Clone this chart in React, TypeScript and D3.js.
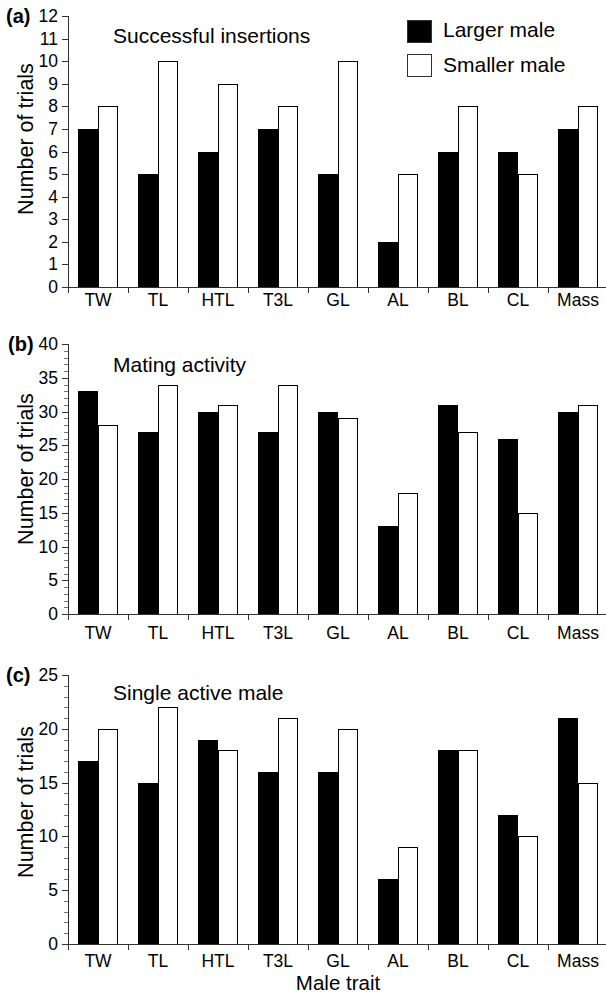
import React from "react";
import * as d3 from "d3";

const categories = ["TW", "TL", "HTL", "T3L", "GL", "AL", "BL", "CL", "Mass"];
const seriesNames = ["Larger male", "Smaller male"];

const insertionsLarger = [7, 5, 6, 7, 5, 2, 6, 6, 7];
const insertionsSmaller = [8, 10, 9, 8, 10, 5, 8, 5, 8];

const matingLarger = [33, 27, 30, 27, 30, 13, 31, 26, 30];
const matingSmaller = [28, 34, 31, 34, 29, 18, 27, 15, 31];

const singleLarger = [17, 15, 19, 16, 16, 6, 18, 12, 21];
const singleSmaller = [20, 22, 18, 21, 20, 9, 18, 10, 15];

const panelLetters = ["(a)", "(b)", "(c)"];
const panelTitles = ["Successful insertions", "Mating activity", "Single active male"];
const yMax = [12, 40, 25];
const yMajorStep = [1, 5, 5];
const yMinorStep = [0, 1, 1];

const FONT = "'Liberation Sans', Arial, Helvetica, sans-serif";
const AXIS = "#333";

type PanelLayout = { y0: number; y1: number; labelBase: number; titleBase: number; axisTitleY: number };
const layouts: PanelLayout[] = [
  { y0: 287, y1: 16, labelBase: 306, titleBase: 43, axisTitleY: 139 },
  { y0: 614, y1: 344, labelBase: 639, titleBase: 372, axisTitleY: 469 },
  { y0: 944, y1: 675, labelBase: 967, titleBase: 700, axisTitleY: 802 },
];

const X0 = 68;
const X1 = 608;

function Panel({ idx, larger, smaller }: { idx: number; larger: number[]; smaller: number[] }) {
  const L = layouts[idx];
  const x = d3.scaleBand<string>().domain(categories).range([X0, X1]).paddingInner(1 / 3).paddingOuter(1 / 6);
  const xs = d3.scaleBand<string>().domain(seriesNames).range([0, x.bandwidth()]);
  const y = d3.scaleLinear().domain([0, yMax[idx]]).range([L.y0, L.y1]);
  const majors = d3.range(0, yMax[idx] + 0.001, yMajorStep[idx]);
  const minors = yMinorStep[idx] ? d3.range(0, yMax[idx] + 0.001, yMinorStep[idx]).filter((v) => v % yMajorStep[idx] !== 0) : [];
  const step = x.step();
  const boundaries = d3.range(0, categories.length + 1).map((i) => X0 + i * step);
  const data = [larger, smaller];
  return (
    <g>
      {categories.map((c, i) =>
        seriesNames.map((s, j) => {
          const v = data[j][i];
          const bx = (x(c) as number) + (xs(s) as number);
          return (
            <rect
              key={c + s}
              x={Math.round(bx) + 0.5}
              y={Math.round(y(v)) + 0.5}
              width={xs.bandwidth() - 1}
              height={Math.round(y(0)) - Math.round(y(v))}
              fill={j === 0 ? "#000" : "#fff"}
              stroke="#000"
              strokeWidth={1}
            />
          );
        })
      )}
      {/* y axis */}
      <line x1={X0 + 0.5} x2={X0 + 0.5} y1={Math.round(y(yMax[idx]))} y2={L.y0 + 6} stroke={AXIS} />
      {majors.map((v) => (
        <g key={"M" + v}>
          <line x1={X0 - 6} x2={X0} y1={Math.round(y(v)) + 0.5} y2={Math.round(y(v)) + 0.5} stroke={AXIS} />
          <text x={58} y={y(v)} textAnchor="end" dominantBaseline="central" fontSize={17.5} fontFamily={FONT} fill="#000">
            {v}
          </text>
        </g>
      ))}
      {minors.map((v) => (
        <line key={"m" + v} x1={X0 - 4} x2={X0} y1={Math.round(y(v)) + 0.5} y2={Math.round(y(v)) + 0.5} stroke="#777" />
      ))}
      {/* x axis */}
      <line x1={X0} x2={X1} y1={L.y0 + 0.5} y2={L.y0 + 0.5} stroke={AXIS} />
      {boundaries.map((bx, i) => (
        <line key={"xt" + i} x1={Math.round(bx) + 0.5} x2={Math.round(bx) + 0.5} y1={L.y0} y2={L.y0 + 6} stroke={AXIS} />
      ))}
      {categories.map((c) => (
        <text key={"xl" + c} x={(x(c) as number) + x.bandwidth() / 2} y={L.labelBase} textAnchor="middle" fontSize={17.5} fontFamily={FONT} fill="#000">
          {c}
        </text>
      ))}
      {/* letters & titles */}
      <text x={idx === 1 ? 8 : 6} y={y(yMax[idx]) + 7} fontSize={20} fontWeight="bold" fontFamily={FONT} fill="#000">
        {panelLetters[idx]}
      </text>
      <text x={113} y={L.titleBase} fontSize={21} fontFamily={FONT} fill="#000">
        {panelTitles[idx]}
      </text>
      <text
        transform={`translate(33,${L.axisTitleY}) rotate(-90)`}
        textAnchor="middle"
        fontSize={21.5}
        fontFamily={FONT}
        fill="#000"
      >
        Number of trials
      </text>
    </g>
  );
}

export default function App() {
  return (
    <svg width={606} height={995} style={{ position: "absolute", left: 0, top: 0, background: "#fff" }}>
      <rect x={0} y={0} width={606} height={995} fill="#fff" />
      <Panel idx={0} larger={insertionsLarger} smaller={insertionsSmaller} />
      <Panel idx={1} larger={matingLarger} smaller={matingSmaller} />
      <Panel idx={2} larger={singleLarger} smaller={singleSmaller} />
      {/* legend */}
      <rect x={407.5} y={20.5} width={24} height={22} fill="#000" stroke="#333" />
      <rect x={407.5} y={54.5} width={24} height={22} fill="#fff" stroke="#333" />
      <text x={443} y={37} fontSize={21} fontFamily={FONT} fill="#000">
        {seriesNames[0]}
      </text>
      <text x={443} y={72} fontSize={21} fontFamily={FONT} fill="#000">
        {seriesNames[1]}
      </text>
      <text x={338} y={990} textAnchor="middle" fontSize={20.5} fontFamily={FONT} fill="#000">
        Male trait
      </text>
    </svg>
  );
}
